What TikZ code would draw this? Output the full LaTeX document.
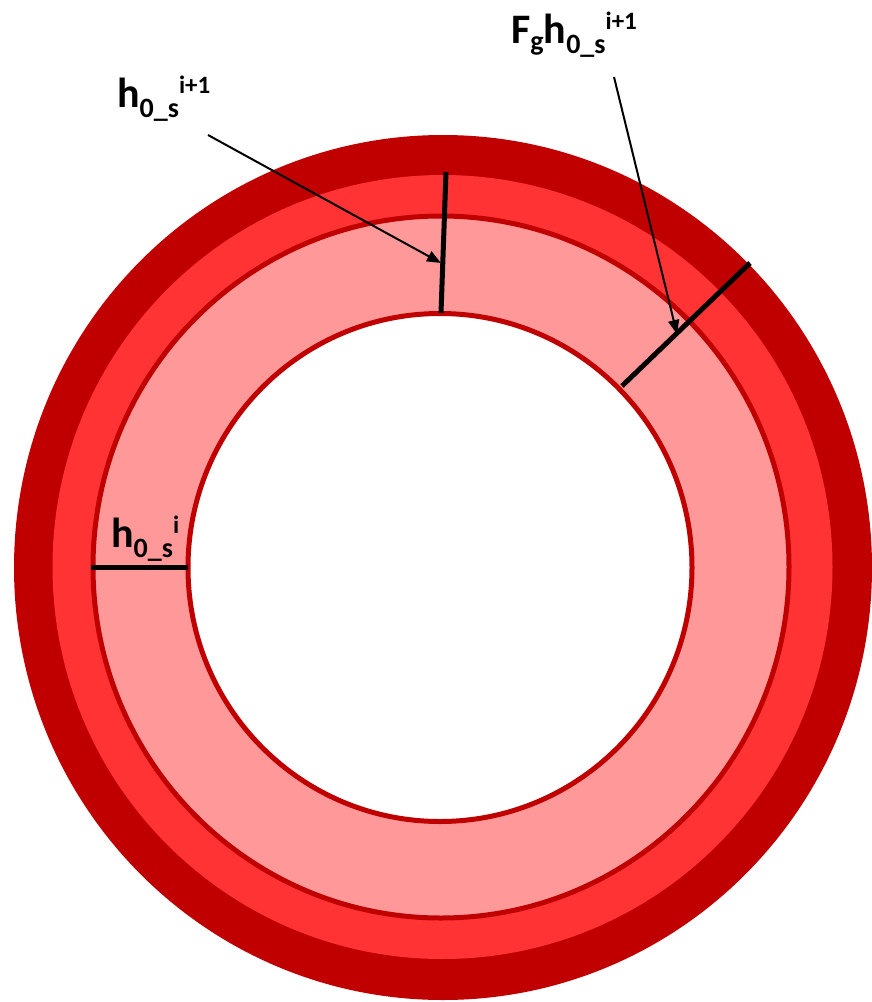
\documentclass[tikz,border=0pt]{standalone}
\usepackage{fontspec}
\setmainfont{Carlito}[BoldFont={Carlito Bold}]
\usetikzlibrary{arrows.meta}
\definecolor{ringdark}{HTML}{C00000}
\definecolor{ringmid}{HTML}{FF3333}
\definecolor{ringpink}{HTML}{FF9999}
\newcommand{\bigletter}[1]{{\fontsize{42}{42}\selectfont #1}}
\newcommand{\lowpart}[1]{\raisebox{-10pt}{\fontsize{28}{28}\selectfont #1}}
\newcommand{\highpart}[1]{\raisebox{14pt}{\fontsize{25}{25}\selectfont #1}}
\tikzset{
  lbl/.style={inner sep=0pt, anchor=base west, font=\bfseries},
  thick bar/.style={line width=5pt, black},
  pointer/.style={line width=2pt, black, -{Triangle[length=14pt,width=11pt]}},
}
\begin{document}
\begin{tikzpicture}[x=1pt,y=-1pt]
\useasboundingbox (0,0) rectangle (872,1002);
\fill[ringdark] (443,567.5) ellipse[x radius=429, y radius=432.5];
\fill[ringmid] (442.5,567) ellipse[x radius=390, y radius=392];
\filldraw[fill=ringpink, draw=ringdark, line width=5pt] (441,567) ellipse[x radius=348, y radius=351];
\filldraw[fill=white, draw=ringdark, line width=5pt] (440,567.5) ellipse[x radius=252, y radius=254];
% bars
\coordinate (v1) at (446,172);
\coordinate (v2) at (441,313);
\draw[thick bar] (v1) -- (v2);
\coordinate (h1) at (91,567);
\coordinate (h2) at (188,567);
\draw[thick bar] (h1) -- (h2);
\coordinate (d1) at (750,263);
\coordinate (d2) at (622,386);
\draw[thick bar] (d1) -- (d2);
% labels
\node[lbl] (la) at (117,107) {\bigletter{h}\lowpart{0\_s}\highpart{i+1}};
\node[lbl] (lb) at (511,43) {\bigletter{F}\raisebox{-7pt}{\fontsize{28}{28}\selectfont g}\bigletter{h}\lowpart{0\_s}\highpart{i+1}};
\node[lbl] (lc) at (111,547) {\bigletter{h}\lowpart{0\_s}\highpart{i}};
% pointers
\coordinate (a1) at (208,135);
\coordinate (a2) at (441,263);
\draw[pointer] (a1) -- (a2);
\coordinate (b1) at (614,77);
\coordinate (b2) at (677,334);
\draw[pointer] (b1) -- (b2);
\end{tikzpicture}
\end{document}
